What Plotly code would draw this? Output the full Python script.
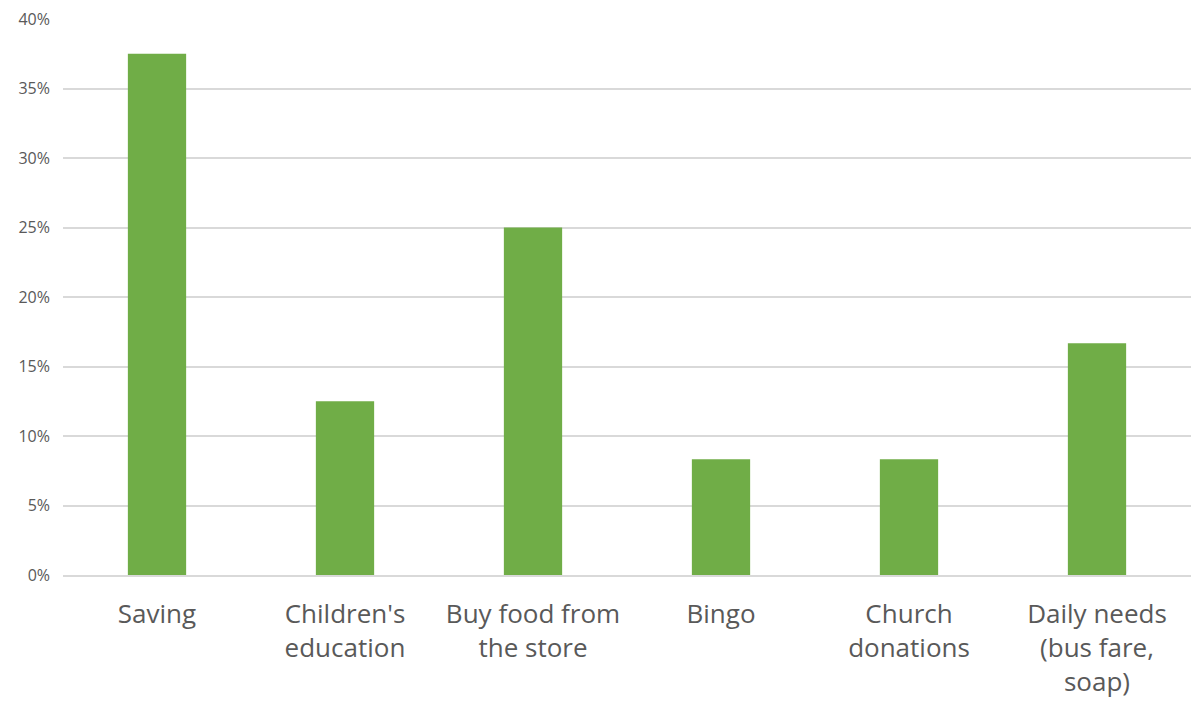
import plotly.graph_objects as go

categories = ["Saving", "Children's<br>education", "Buy food from<br>the store", "Bingo",
              "Church<br>donations", "Daily needs<br>(bus fare,<br>soap)"]
shares = [0.375, 0.125, 0.25, 0.0833, 0.0833, 0.1667]
y_ticks = [0, 0.05, 0.10, 0.15, 0.20, 0.25, 0.30, 0.35, 0.40]
y_tick_labels = ["0%", "5%", "10%", "15%", "20%", "25%", "30%", "35%", "40%"]

fig = go.Figure(go.Bar(x=categories, y=shares, marker_color="#70ad47",
                       marker_line_width=0, width=0.31))

fig.update_layout(
    width=1191, height=702,
    margin=dict(l=63, r=0, t=19, b=127),
    paper_bgcolor="white", plot_bgcolor="white",
    font=dict(family="Open Sans, Noto Sans, sans-serif", color="#595959"),
    showlegend=False,
    bargap=0.69,
)
fig.update_yaxes(range=[0, 0.40], tickvals=y_ticks, ticktext=y_tick_labels,
                 showgrid=True, gridcolor="#d9d9d9", gridwidth=1.5,
                 zeroline=False, showline=False,
                 tickfont=dict(size=16, color="#595959"), ticklabelstandoff=12)
fig.update_xaxes(showline=True, linecolor="#d9d9d9", linewidth=1.5,
                 tickfont=dict(size=26, color="#595959"), ticklabelstandoff=15,
                 ticks="")

fig.write_html("out.html")
